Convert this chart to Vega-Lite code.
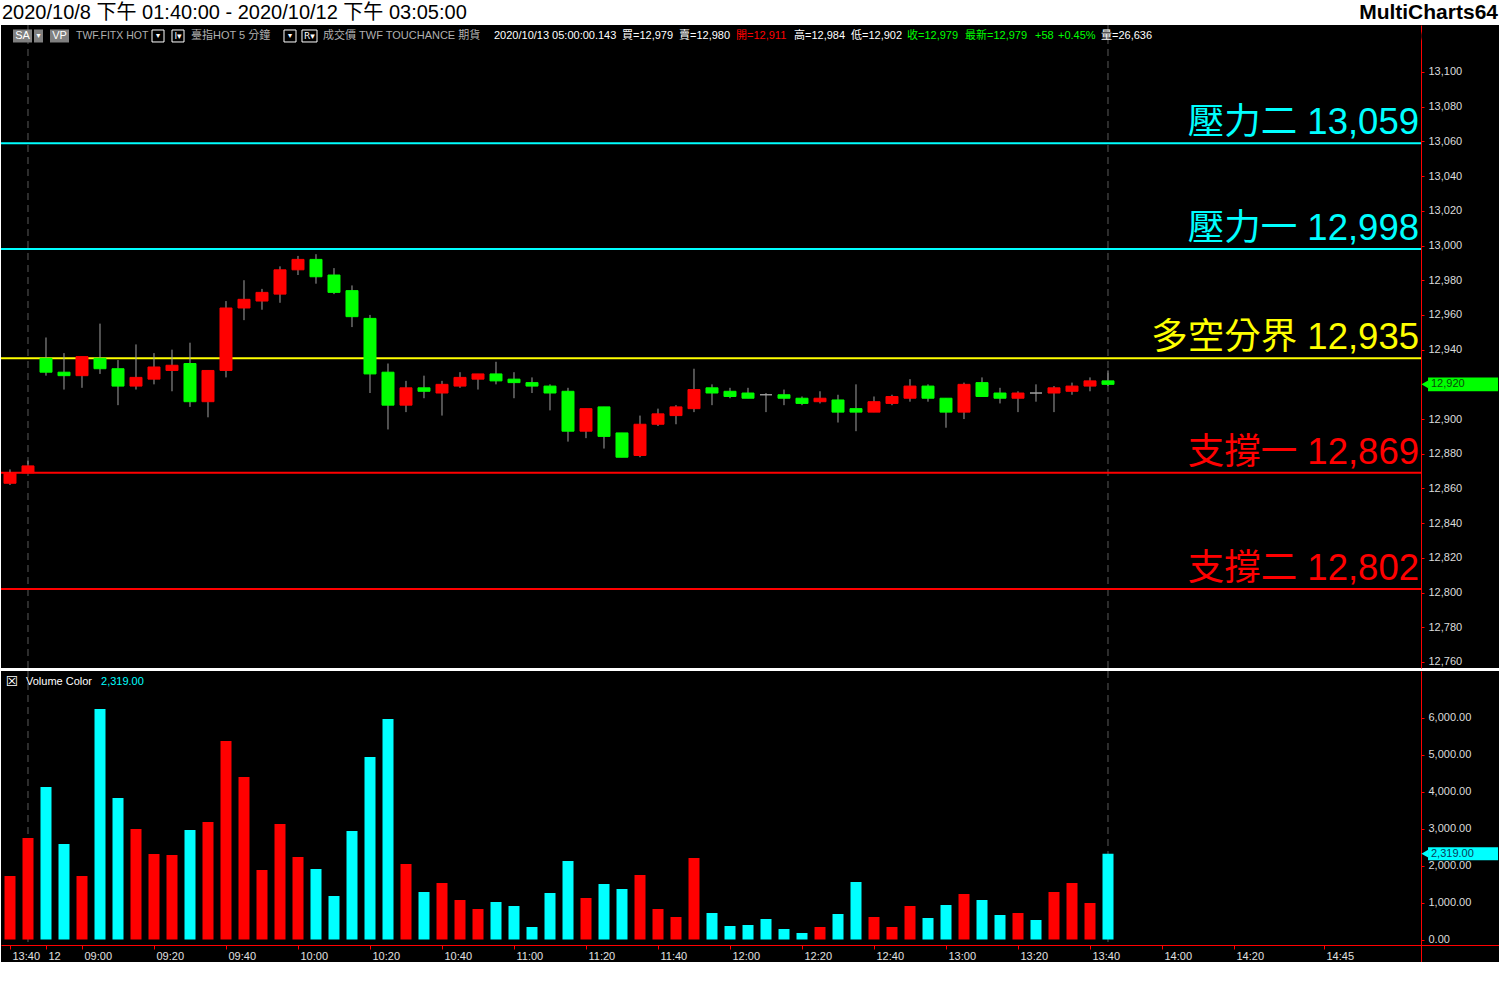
{
  "$schema": "https://vega.github.io/schema/vega-lite/v6.json",
  "padding": 0,
  "background": "white",
  "spacing": 0,
  "bounds": "flush",
  "config": {"view": {"stroke": null}, "text": {"font": "Liberation Sans, Noto Sans CJK TC"}},
  "datasets": {
    "one": [{}],
    "bars": [
      {"i":0,"o":12863,"h":12871,"l":12862,"c":12869,"v":1716,"dir":"up"},
      {"i":1,"o":12869,"h":12876,"l":12869,"c":12873,"v":2744,"dir":"up"},
      {"i":2,"o":12935,"h":12947,"l":12925,"c":12927,"v":4122,"dir":"down"},
      {"i":3,"o":12927,"h":12938,"l":12917,"c":12925,"v":2581,"dir":"down"},
      {"i":4,"o":12925,"h":12936,"l":12918,"c":12936,"v":1716,"dir":"up"},
      {"i":5,"o":12935,"h":12955,"l":12926,"c":12929,"v":6230,"dir":"down"},
      {"i":6,"o":12929,"h":12934,"l":12908,"c":12919,"v":3825,"dir":"down"},
      {"i":7,"o":12919,"h":12943,"l":12917,"c":12924,"v":2987,"dir":"up"},
      {"i":8,"o":12923,"h":12938,"l":12920,"c":12930,"v":2311,"dir":"up"},
      {"i":9,"o":12928,"h":12940,"l":12916,"c":12931,"v":2284,"dir":"up"},
      {"i":10,"o":12932,"h":12944,"l":12907,"c":12910,"v":2960,"dir":"down"},
      {"i":11,"o":12910,"h":12928,"l":12901,"c":12928,"v":3176,"dir":"up"},
      {"i":12,"o":12928,"h":12968,"l":12924,"c":12964,"v":5366,"dir":"up"},
      {"i":13,"o":12964,"h":12980,"l":12957,"c":12969,"v":4392,"dir":"up"},
      {"i":14,"o":12968,"h":12975,"l":12963,"c":12973,"v":1879,"dir":"up"},
      {"i":15,"o":12972,"h":12988,"l":12967,"c":12986,"v":3122,"dir":"up"},
      {"i":16,"o":12986,"h":12994,"l":12983,"c":12992,"v":2230,"dir":"up"},
      {"i":17,"o":12992,"h":12995,"l":12978,"c":12982,"v":1906,"dir":"down"},
      {"i":18,"o":12983,"h":12987,"l":12972,"c":12973,"v":1176,"dir":"down"},
      {"i":19,"o":12974,"h":12977,"l":12953,"c":12959,"v":2933,"dir":"down"},
      {"i":20,"o":12958,"h":12960,"l":12915,"c":12926,"v":4933,"dir":"down"},
      {"i":21,"o":12927,"h":12932,"l":12894,"c":12908,"v":5960,"dir":"down"},
      {"i":22,"o":12908,"h":12922,"l":12904,"c":12918,"v":2041,"dir":"up"},
      {"i":23,"o":12918,"h":12925,"l":12912,"c":12916,"v":1284,"dir":"down"},
      {"i":24,"o":12915,"h":12922,"l":12902,"c":12920,"v":1527,"dir":"up"},
      {"i":25,"o":12919,"h":12927,"l":12918,"c":12924,"v":1068,"dir":"up"},
      {"i":26,"o":12923,"h":12926,"l":12917,"c":12926,"v":824,"dir":"up"},
      {"i":27,"o":12926,"h":12933,"l":12920,"c":12922,"v":1014,"dir":"down"},
      {"i":28,"o":12923,"h":12927,"l":12912,"c":12921,"v":905,"dir":"down"},
      {"i":29,"o":12921,"h":12924,"l":12915,"c":12919,"v":338,"dir":"down"},
      {"i":30,"o":12919,"h":12920,"l":12905,"c":12915,"v":1257,"dir":"down"},
      {"i":31,"o":12916,"h":12918,"l":12887,"c":12893,"v":2122,"dir":"down"},
      {"i":32,"o":12893,"h":12906,"l":12889,"c":12906,"v":1122,"dir":"up"},
      {"i":33,"o":12907,"h":12907,"l":12883,"c":12890,"v":1500,"dir":"down"},
      {"i":34,"o":12892,"h":12892,"l":12878,"c":12878,"v":1365,"dir":"down"},
      {"i":35,"o":12879,"h":12902,"l":12878,"c":12897,"v":1743,"dir":"up"},
      {"i":36,"o":12897,"h":12906,"l":12896,"c":12903,"v":824,"dir":"up"},
      {"i":37,"o":12902,"h":12908,"l":12897,"c":12907,"v":608,"dir":"up"},
      {"i":38,"o":12906,"h":12929,"l":12904,"c":12917,"v":2203,"dir":"up"},
      {"i":39,"o":12918,"h":12920,"l":12908,"c":12915,"v":716,"dir":"down"},
      {"i":40,"o":12916,"h":12918,"l":12912,"c":12913,"v":365,"dir":"down"},
      {"i":41,"o":12915,"h":12918,"l":12912,"c":12912,"v":392,"dir":"down"},
      {"i":42,"o":12914,"h":12915,"l":12904,"c":12914,"v":554,"dir":"flat"},
      {"i":43,"o":12914,"h":12917,"l":12908,"c":12912,"v":284,"dir":"down"},
      {"i":44,"o":12912,"h":12913,"l":12908,"c":12909,"v":176,"dir":"down"},
      {"i":45,"o":12910,"h":12916,"l":12909,"c":12912,"v":338,"dir":"up"},
      {"i":46,"o":12911,"h":12914,"l":12898,"c":12904,"v":689,"dir":"down"},
      {"i":47,"o":12906,"h":12920,"l":12893,"c":12904,"v":1554,"dir":"down"},
      {"i":48,"o":12904,"h":12913,"l":12904,"c":12910,"v":608,"dir":"up"},
      {"i":49,"o":12909,"h":12914,"l":12908,"c":12913,"v":338,"dir":"up"},
      {"i":50,"o":12912,"h":12923,"l":12910,"c":12919,"v":905,"dir":"up"},
      {"i":51,"o":12919,"h":12920,"l":12910,"c":12912,"v":581,"dir":"down"},
      {"i":52,"o":12912,"h":12912,"l":12895,"c":12904,"v":932,"dir":"down"},
      {"i":53,"o":12904,"h":12921,"l":12900,"c":12920,"v":1230,"dir":"up"},
      {"i":54,"o":12921,"h":12924,"l":12913,"c":12913,"v":1068,"dir":"down"},
      {"i":55,"o":12915,"h":12918,"l":12909,"c":12912,"v":662,"dir":"down"},
      {"i":56,"o":12912,"h":12916,"l":12904,"c":12915,"v":716,"dir":"up"},
      {"i":57,"o":12915,"h":12920,"l":12910,"c":12915,"v":527,"dir":"flat"},
      {"i":58,"o":12915,"h":12919,"l":12904,"c":12918,"v":1284,"dir":"up"},
      {"i":59,"o":12916,"h":12921,"l":12914,"c":12919,"v":1527,"dir":"up"},
      {"i":60,"o":12919,"h":12924,"l":12916,"c":12922,"v":987,"dir":"up"},
      {"i":61,"o":12922,"h":12928,"l":12919,"c":12920,"v":2319,"dir":"down"}
    ],
    "levels": [
      {"name":"壓力二","value":13059,"label":"壓力二 13,059"},
      {"name":"壓力一","value":12998,"label":"壓力一 12,998"},
      {"name":"多空分界","value":12935,"label":"多空分界 12,935"},
      {"name":"支撐一","value":12869,"label":"支撐一 12,869"},
      {"name":"支撐二","value":12802,"label":"支撐二 12,802"}
    ]
  },
  "vconcat": [
    {
      "width": 1499, "height": 25,
      "data": {"name": "one"},
      "layer": [
        {"mark": {"type":"text","align":"left","baseline":"middle","fontSize":20,"color":"black","dx":1},
         "encoding": {"x":{"datum":0,"type":"quantitative","scale":{"domain":[0,1],"nice":false,"zero":false},"axis":null},
                      "y":{"datum":0.5,"type":"quantitative","scale":{"domain":[0,1],"nice":false,"zero":false},"axis":null},
                      "text":{"value":"2020/10/8 下午 01:40:00 - 2020/10/12 下午 03:05:00"}}},
        {"mark": {"type":"text","align":"right","baseline":"middle","fontSize":21,"fontWeight":"bold","color":"black","dx":-2},
         "encoding": {"x":{"datum":1,"type":"quantitative","scale":{"domain":[0,1],"nice":false,"zero":false},"axis":null},
                      "y":{"datum":0.5,"type":"quantitative","scale":{"domain":[0,1],"nice":false,"zero":false},"axis":null},
                      "text":{"value":"MultiCharts64"}}}
      ]
    },
    {
      "spacing": 3,
      "bounds": "flush",
      "vconcat": [
        {
          "width": 1499, "height": 643,
          "view": {"fill": "black", "stroke": null},
          "data": {"name": "one"},
          "resolve": {"scale": {"color": "independent", "stroke": "independent"}},
          "layer": [
            {"mark": {"type":"rule","color":"#5a5a5a","strokeDash":[7,5],"strokeWidth":1},
             "encoding": {"x":{"datum":1,"type":"quantitative","scale":{"domain":[-0.5,82.7778],"nice":false,"zero":false,"padding":0},"axis":null}}},
            {"mark": {"type":"rule","color":"#5a5a5a","strokeDash":[7,5],"strokeWidth":1},
             "encoding": {"x":{"datum":61,"type":"quantitative","scale":{"domain":[-0.5,82.7778],"nice":false,"zero":false,"padding":0},"axis":null}}},
            {"data": {"name":"levels"},
             "mark": {"type":"rule","strokeWidth":2},
             "encoding": {"x":{"datum":-0.5,"type":"quantitative","scale":{"domain":[-0.5,82.7778],"nice":false,"zero":false,"padding":0},"axis":null},
                          "x2":{"datum":78.389},
                          "y":{"field":"value","type":"quantitative","title":null,"scale":{"domain":[12756.54,13127.08],"nice":false,"zero":false}},
                          "color":{"field":"name","type":"nominal","scale":{"domain":["壓力二","壓力一","多空分界","支撐一","支撐二"],"range":["#00ffff","#00ffff","#ffff00","#ff0000","#ff0000"]},"legend":null}}},
            {"data": {"name":"levels"},
             "mark": {"type":"text","align":"right","baseline":"alphabetic","fontSize":36.5,"dy":-9,"dx":-2},
             "encoding": {"x":{"datum":78.389,"type":"quantitative","scale":{"domain":[-0.5,82.7778],"nice":false,"zero":false,"padding":0},"axis":null},
                          "y":{"field":"value","type":"quantitative","title":null,"scale":{"domain":[12756.54,13127.08],"nice":false,"zero":false}},
                          "text":{"field":"label"},
                          "color":{"field":"name","type":"nominal","scale":{"domain":["壓力二","壓力一","多空分界","支撐一","支撐二"],"range":["#00ffff","#00ffff","#ffff00","#ff0000","#ff0000"]},"legend":null}}},
            {"data": {"name":"bars"},
             "mark": {"type":"rule","color":"#a0a0a0","strokeWidth":1},
             "encoding": {"x":{"field":"i","type":"quantitative","scale":{"domain":[-0.5,82.7778],"nice":false,"zero":false,"padding":0},"axis":null},
                          "y":{"field":"l","type":"quantitative","title":null,"scale":{"domain":[12756.54,13127.08],"nice":false,"zero":false}},
                          "y2":{"field":"h"}}},
            {"data": {"name":"bars"},
             "mark": {"type":"bar","width":12,"strokeWidth":1,"orient":"vertical"},
             "encoding": {"x":{"field":"i","type":"quantitative","scale":{"domain":[-0.5,82.7778],"nice":false,"zero":false,"padding":0},"axis":null},
                          "y":{"field":"o","type":"quantitative","title":null,"scale":{"domain":[12756.54,13127.08],"nice":false,"zero":false},
                               "axis":{"orient":"right","offset":-79,"title":null,"grid":false,
                                       "values":[12760,12780,12800,12820,12840,12860,12880,12900,12940,12960,12980,13000,13020,13040,13060,13080,13100],
                                       "format":",.0f",
                                       "domainColor":"#ff0000","domainWidth":1,"tickColor":"#ff0000","tickSize":3,
                                       "labelColor":"#dcdcdc","labelFontSize":11,"labelFont":"Liberation Sans","labelPadding":4,"labelOverlap":false,"labelFlush":false,"labelBound":false}},
                          "y2":{"field":"c"},
                          "color":{"field":"dir","type":"nominal","scale":{"domain":["up","down","flat"],"range":["#ff0000","#00ff00","#a0a0a0"]},"legend":null},
                          "stroke":{"field":"dir","type":"nominal","scale":{"domain":["up","down","flat"],"range":["#ff0000","#00ff00","#a0a0a0"]},"legend":null}}},
            {"mark": {"type":"rect","fill":"#808080"},
             "encoding": {"x":{"datum":0.167,"type":"quantitative","scale":{"domain":[-0.5,82.7778],"nice":false,"zero":false,"padding":0},"axis":null},"x2":{"datum":1.222},
                          "y":{"datum":13117,"type":"quantitative","scale":{"domain":[12756.54,13127.08],"nice":false,"zero":false}},"y2":{"datum":13124.5}}},
            {"mark": {"type":"rect","fill":"#808080"},
             "encoding": {"x":{"datum":1.333,"type":"quantitative","scale":{"domain":[-0.5,82.7778],"nice":false,"zero":false,"padding":0},"axis":null},"x2":{"datum":1.833},
                          "y":{"datum":13117,"type":"quantitative","scale":{"domain":[12756.54,13127.08],"nice":false,"zero":false}},"y2":{"datum":13124.5}}},
            {"mark": {"type":"rect","fill":"#808080"},
             "encoding": {"x":{"datum":2.222,"type":"quantitative","scale":{"domain":[-0.5,82.7778],"nice":false,"zero":false,"padding":0},"axis":null},"x2":{"datum":3.278},
                          "y":{"datum":13117,"type":"quantitative","scale":{"domain":[12756.54,13127.08],"nice":false,"zero":false}},"y2":{"datum":13124.5}}},
            {"mark": {"type":"rect","fill":"black","stroke":"white","strokeWidth":1},
             "encoding": {"x":{"datum":7.889,"type":"quantitative","scale":{"domain":[-0.5,82.7778],"nice":false,"zero":false,"padding":0},"axis":null},"x2":{"datum":8.556},
                          "y":{"datum":13117.3,"type":"quantitative","scale":{"domain":[12756.54,13127.08],"nice":false,"zero":false}},"y2":{"datum":13124.2}}},
            {"mark": {"type":"rect","fill":"black","stroke":"white","strokeWidth":1},
             "encoding": {"x":{"datum":9.0,"type":"quantitative","scale":{"domain":[-0.5,82.7778],"nice":false,"zero":false,"padding":0},"axis":null},"x2":{"datum":9.667},
                          "y":{"datum":13117.3,"type":"quantitative","scale":{"domain":[12756.54,13127.08],"nice":false,"zero":false}},"y2":{"datum":13124.2}}},
            {"mark": {"type":"rect","fill":"black","stroke":"white","strokeWidth":1},
             "encoding": {"x":{"datum":15.222,"type":"quantitative","scale":{"domain":[-0.5,82.7778],"nice":false,"zero":false,"padding":0},"axis":null},"x2":{"datum":15.889},
                          "y":{"datum":13117.3,"type":"quantitative","scale":{"domain":[12756.54,13127.08],"nice":false,"zero":false}},"y2":{"datum":13124.2}}},
            {"mark": {"type":"rect","fill":"black","stroke":"white","strokeWidth":1},
             "encoding": {"x":{"datum":16.222,"type":"quantitative","scale":{"domain":[-0.5,82.7778],"nice":false,"zero":false,"padding":0},"axis":null},"x2":{"datum":17.056},
                          "y":{"datum":13117.3,"type":"quantitative","scale":{"domain":[12756.54,13127.08],"nice":false,"zero":false}},"y2":{"datum":13124.2}}},
            {"mark": {"type":"text","align":"center","baseline":"middle","fontSize":11,"color":"white"},
             "encoding": {"x":{"datum":0.694,"type":"quantitative","scale":{"domain":[-0.5,82.7778],"nice":false,"zero":false,"padding":0},"axis":null},
                          "y":{"datum":13120.7,"type":"quantitative","scale":{"domain":[12756.54,13127.08],"nice":false,"zero":false}},
                          "text":{"value":"SA"}}},
            {"mark": {"type":"text","align":"center","baseline":"middle","fontSize":8,"font":"DejaVu Sans","color":"white"},
             "encoding": {"x":{"datum":1.583,"type":"quantitative","scale":{"domain":[-0.5,82.7778],"nice":false,"zero":false,"padding":0},"axis":null},
                          "y":{"datum":13120.7,"type":"quantitative","scale":{"domain":[12756.54,13127.08],"nice":false,"zero":false}},
                          "text":{"value":"▾"}}},
            {"mark": {"type":"text","align":"center","baseline":"middle","fontSize":11,"color":"white"},
             "encoding": {"x":{"datum":2.75,"type":"quantitative","scale":{"domain":[-0.5,82.7778],"nice":false,"zero":false,"padding":0},"axis":null},
                          "y":{"datum":13120.7,"type":"quantitative","scale":{"domain":[12756.54,13127.08],"nice":false,"zero":false}},
                          "text":{"value":"VP"}}},
            {"mark": {"type":"text","align":"left","baseline":"middle","fontSize":10.5,"color":"#b0b0b0"},
             "encoding": {"x":{"datum":3.667,"type":"quantitative","scale":{"domain":[-0.5,82.7778],"nice":false,"zero":false,"padding":0},"axis":null},
                          "y":{"datum":13120.7,"type":"quantitative","scale":{"domain":[12756.54,13127.08],"nice":false,"zero":false}},
                          "text":{"value":"TWF.FITX HOT"}}},
            {"mark": {"type":"text","align":"center","baseline":"middle","fontSize":8,"font":"DejaVu Sans","color":"white"},
             "encoding": {"x":{"datum":8.222,"type":"quantitative","scale":{"domain":[-0.5,82.7778],"nice":false,"zero":false,"padding":0},"axis":null},
                          "y":{"datum":13120.7,"type":"quantitative","scale":{"domain":[12756.54,13127.08],"nice":false,"zero":false}},
                          "text":{"value":"▾"}}},
            {"mark": {"type":"text","align":"center","baseline":"middle","fontSize":9,"font":"DejaVu Sans","color":"white"},
             "encoding": {"x":{"datum":9.333,"type":"quantitative","scale":{"domain":[-0.5,82.7778],"nice":false,"zero":false,"padding":0},"axis":null},
                          "y":{"datum":13120.7,"type":"quantitative","scale":{"domain":[12756.54,13127.08],"nice":false,"zero":false}},
                          "text":{"value":"I▾"}}},
            {"mark": {"type":"text","align":"left","baseline":"middle","fontSize":11,"color":"#b0b0b0"},
             "encoding": {"x":{"datum":10.056,"type":"quantitative","scale":{"domain":[-0.5,82.7778],"nice":false,"zero":false,"padding":0},"axis":null},
                          "y":{"datum":13120.7,"type":"quantitative","scale":{"domain":[12756.54,13127.08],"nice":false,"zero":false}},
                          "text":{"value":"臺指HOT  5 分鐘"}}},
            {"mark": {"type":"text","align":"center","baseline":"middle","fontSize":8,"font":"DejaVu Sans","color":"white"},
             "encoding": {"x":{"datum":15.556,"type":"quantitative","scale":{"domain":[-0.5,82.7778],"nice":false,"zero":false,"padding":0},"axis":null},
                          "y":{"datum":13120.7,"type":"quantitative","scale":{"domain":[12756.54,13127.08],"nice":false,"zero":false}},
                          "text":{"value":"▾"}}},
            {"mark": {"type":"text","align":"center","baseline":"middle","fontSize":9,"font":"DejaVu Sans","color":"white"},
             "encoding": {"x":{"datum":16.639,"type":"quantitative","scale":{"domain":[-0.5,82.7778],"nice":false,"zero":false,"padding":0},"axis":null},
                          "y":{"datum":13120.7,"type":"quantitative","scale":{"domain":[12756.54,13127.08],"nice":false,"zero":false}},
                          "text":{"value":"R▾"}}},
            {"mark": {"type":"text","align":"left","baseline":"middle","fontSize":11,"color":"#b0b0b0"},
             "encoding": {"x":{"datum":17.389,"type":"quantitative","scale":{"domain":[-0.5,82.7778],"nice":false,"zero":false,"padding":0},"axis":null},
                          "y":{"datum":13120.7,"type":"quantitative","scale":{"domain":[12756.54,13127.08],"nice":false,"zero":false}},
                          "text":{"value":"成交價  TWF  TOUCHANCE  期貨"}}},
            {"mark": {"type":"text","align":"left","baseline":"middle","fontSize":11,"color":"white"},
             "encoding": {"x":{"datum":26.889,"type":"quantitative","scale":{"domain":[-0.5,82.7778],"nice":false,"zero":false,"padding":0},"axis":null},
                          "y":{"datum":13120.7,"type":"quantitative","scale":{"domain":[12756.54,13127.08],"nice":false,"zero":false}},
                          "text":{"value":"2020/10/13  05:00:00.143"}}},
            {"mark": {"type":"text","align":"left","baseline":"middle","fontSize":11,"color":"white"},
             "encoding": {"x":{"datum":34.0,"type":"quantitative","scale":{"domain":[-0.5,82.7778],"nice":false,"zero":false,"padding":0},"axis":null},
                          "y":{"datum":13120.7,"type":"quantitative","scale":{"domain":[12756.54,13127.08],"nice":false,"zero":false}},
                          "text":{"value":"買=12,979"}}},
            {"mark": {"type":"text","align":"left","baseline":"middle","fontSize":11,"color":"white"},
             "encoding": {"x":{"datum":37.167,"type":"quantitative","scale":{"domain":[-0.5,82.7778],"nice":false,"zero":false,"padding":0},"axis":null},
                          "y":{"datum":13120.7,"type":"quantitative","scale":{"domain":[12756.54,13127.08],"nice":false,"zero":false}},
                          "text":{"value":"賣=12,980"}}},
            {"mark": {"type":"text","align":"left","baseline":"middle","fontSize":11,"color":"#ff0000"},
             "encoding": {"x":{"datum":40.333,"type":"quantitative","scale":{"domain":[-0.5,82.7778],"nice":false,"zero":false,"padding":0},"axis":null},
                          "y":{"datum":13120.7,"type":"quantitative","scale":{"domain":[12756.54,13127.08],"nice":false,"zero":false}},
                          "text":{"value":"開=12,911"}}},
            {"mark": {"type":"text","align":"left","baseline":"middle","fontSize":11,"color":"white"},
             "encoding": {"x":{"datum":43.556,"type":"quantitative","scale":{"domain":[-0.5,82.7778],"nice":false,"zero":false,"padding":0},"axis":null},
                          "y":{"datum":13120.7,"type":"quantitative","scale":{"domain":[12756.54,13127.08],"nice":false,"zero":false}},
                          "text":{"value":"高=12,984"}}},
            {"mark": {"type":"text","align":"left","baseline":"middle","fontSize":11,"color":"white"},
             "encoding": {"x":{"datum":46.722,"type":"quantitative","scale":{"domain":[-0.5,82.7778],"nice":false,"zero":false,"padding":0},"axis":null},
                          "y":{"datum":13120.7,"type":"quantitative","scale":{"domain":[12756.54,13127.08],"nice":false,"zero":false}},
                          "text":{"value":"低=12,902"}}},
            {"mark": {"type":"text","align":"left","baseline":"middle","fontSize":11,"color":"#00ff00"},
             "encoding": {"x":{"datum":49.833,"type":"quantitative","scale":{"domain":[-0.5,82.7778],"nice":false,"zero":false,"padding":0},"axis":null},
                          "y":{"datum":13120.7,"type":"quantitative","scale":{"domain":[12756.54,13127.08],"nice":false,"zero":false}},
                          "text":{"value":"收=12,979"}}},
            {"mark": {"type":"text","align":"left","baseline":"middle","fontSize":11,"color":"#00ff00"},
             "encoding": {"x":{"datum":53.056,"type":"quantitative","scale":{"domain":[-0.5,82.7778],"nice":false,"zero":false,"padding":0},"axis":null},
                          "y":{"datum":13120.7,"type":"quantitative","scale":{"domain":[12756.54,13127.08],"nice":false,"zero":false}},
                          "text":{"value":"最新=12,979"}}},
            {"mark": {"type":"text","align":"left","baseline":"middle","fontSize":11,"color":"#00ff00"},
             "encoding": {"x":{"datum":56.944,"type":"quantitative","scale":{"domain":[-0.5,82.7778],"nice":false,"zero":false,"padding":0},"axis":null},
                          "y":{"datum":13120.7,"type":"quantitative","scale":{"domain":[12756.54,13127.08],"nice":false,"zero":false}},
                          "text":{"value":"+58"}}},
            {"mark": {"type":"text","align":"left","baseline":"middle","fontSize":11,"color":"#00ff00"},
             "encoding": {"x":{"datum":58.222,"type":"quantitative","scale":{"domain":[-0.5,82.7778],"nice":false,"zero":false,"padding":0},"axis":null},
                          "y":{"datum":13120.7,"type":"quantitative","scale":{"domain":[12756.54,13127.08],"nice":false,"zero":false}},
                          "text":{"value":"+0.45%"}}},
            {"mark": {"type":"text","align":"left","baseline":"middle","fontSize":11,"color":"white"},
             "encoding": {"x":{"datum":60.611,"type":"quantitative","scale":{"domain":[-0.5,82.7778],"nice":false,"zero":false,"padding":0},"axis":null},
                          "y":{"datum":13120.7,"type":"quantitative","scale":{"domain":[12756.54,13127.08],"nice":false,"zero":false}},
                          "text":{"value":"量=26,636"}}},
            {"mark": {"type":"rect","fill":"#00ff00"},
             "encoding": {"x":{"datum":78.78,"type":"quantitative","scale":{"domain":[-0.5,82.7778],"nice":false,"zero":false,"padding":0},"axis":null},"x2":{"datum":82.67},
                          "y":{"datum":12916,"type":"quantitative","scale":{"domain":[12756.54,13127.08],"nice":false,"zero":false}},"y2":{"datum":12924}}},
            {"mark": {"type":"point","shape":"triangle-left","filled":true,"fill":"#00ff00","strokeWidth":0,"size":60,"opacity":1},
             "encoding": {"x":{"datum":78.6,"type":"quantitative","scale":{"domain":[-0.5,82.7778],"nice":false,"zero":false,"padding":0},"axis":null},
                          "y":{"datum":12920,"type":"quantitative","scale":{"domain":[12756.54,13127.08],"nice":false,"zero":false}}}},
            {"mark": {"type":"text","align":"left","baseline":"middle","fontSize":11,"color":"#0a4a0a"},
             "encoding": {"x":{"datum":78.944,"type":"quantitative","scale":{"domain":[-0.5,82.7778],"nice":false,"zero":false,"padding":0},"axis":null},
                          "y":{"datum":12920,"type":"quantitative","scale":{"domain":[12756.54,13127.08],"nice":false,"zero":false}},
                          "text":{"value":"12,920"}}}
          ]
        },
        {
          "width": 1499, "height": 291,
          "view": {"fill": "black", "stroke": null},
          "data": {"name": "one"},
          "resolve": {"scale": {"color": "independent"}},
          "layer": [
            {"mark": {"type":"rule","color":"#5a5a5a","strokeDash":[7,5],"strokeWidth":1},
             "encoding": {"x":{"datum":1,"type":"quantitative","scale":{"domain":[-0.5,82.7778],"nice":false,"zero":false,"padding":0}},
                          "y":{"datum":7256.8,"type":"quantitative","scale":{"domain":[-608.1,7256.8],"nice":false,"zero":false}},"y2":{"datum":-149}}},
            {"mark": {"type":"rule","color":"#5a5a5a","strokeDash":[7,5],"strokeWidth":1},
             "encoding": {"x":{"datum":61,"type":"quantitative","scale":{"domain":[-0.5,82.7778],"nice":false,"zero":false,"padding":0}},
                          "y":{"datum":7256.8,"type":"quantitative","scale":{"domain":[-608.1,7256.8],"nice":false,"zero":false}},"y2":{"datum":-149}}},
            {"data": {"name":"bars"},
             "mark": {"type":"bar","width":11,"orient":"vertical"},
             "encoding": {"x":{"field":"i","type":"quantitative","title":null,"scale":{"domain":[-0.5,82.7778],"nice":false,"zero":false,"padding":0},
                               "axis":{"orient":"bottom","offset":-17,"title":null,"grid":false,
                                       "values":[0,2,4,8,12,16,20,24,28,32,36,40,44,48,52,56,60,64,68,73],
                                       "labelExpr":"datum.value == 0 ? '13:40' : datum.value == 2 ? '12' : format(floor((530 + (datum.value - 2) * 5) / 60), '02d') + ':' + format((530 + (datum.value - 2) * 5) % 60, '02d')",
                                       "labelAlign":"left","labelBaseline":"top","labelOffset":2,"labelPadding":1,
                                       "domainColor":"#ff0000","tickColor":"#ff0000","tickSize":4,
                                       "labelColor":"#e0e0e0","labelFontSize":11,"labelFont":"Liberation Sans","labelOverlap":false,"labelFlush":false,"labelBound":false}},
                          "y":{"field":"v","type":"quantitative","title":null,"scale":{"domain":[-608.1,7256.8],"nice":false,"zero":false},
                               "axis":{"orient":"right","offset":-79,"title":null,"grid":false,
                                       "values":[0,500,1000,1500,2000,2500,3000,3500,4000,4500,5000,5500,6000,6500],
                                       "format":",.2f","labelExpr":"datum.value % 1000 === 0 ? datum.label : ''",
                                       "domainColor":"#ff0000","tickColor":"#ff0000","tickSize":3,
                                       "labelColor":"#dcdcdc","labelFontSize":11,"labelFont":"Liberation Sans","labelPadding":4,"labelOverlap":false,"labelFlush":false,"labelBound":false}},
                          "y2":{"datum":0},
                          "color":{"field":"dir","type":"nominal","scale":{"domain":["up","down","flat"],"range":["#ff0000","#00ffff","#00ffff"]},"legend":null}}},
            {"mark": {"type":"text","align":"center","baseline":"middle","fontSize":14,"font":"DejaVu Sans","color":"white"},
             "encoding": {"x":{"datum":0.111,"type":"quantitative","scale":{"domain":[-0.5,82.7778],"nice":false,"zero":false,"padding":0}},
                          "y":{"datum":6960,"type":"quantitative","scale":{"domain":[-608.1,7256.8],"nice":false,"zero":false}},
                          "text":{"value":"☒"}}},
            {"mark": {"type":"text","align":"left","baseline":"middle","fontSize":11,"color":"white"},
             "encoding": {"x":{"datum":0.889,"type":"quantitative","scale":{"domain":[-0.5,82.7778],"nice":false,"zero":false,"padding":0}},
                          "y":{"datum":6960,"type":"quantitative","scale":{"domain":[-608.1,7256.8],"nice":false,"zero":false}},
                          "text":{"value":"Volume Color"}}},
            {"mark": {"type":"text","align":"left","baseline":"middle","fontSize":11,"color":"#00ffff"},
             "encoding": {"x":{"datum":5.056,"type":"quantitative","scale":{"domain":[-0.5,82.7778],"nice":false,"zero":false,"padding":0}},
                          "y":{"datum":6960,"type":"quantitative","scale":{"domain":[-608.1,7256.8],"nice":false,"zero":false}},
                          "text":{"value":"2,319.00"}}},
            {"mark": {"type":"rect","fill":"#00ffff"},
             "encoding": {"x":{"datum":78.78,"type":"quantitative","scale":{"domain":[-0.5,82.7778],"nice":false,"zero":false,"padding":0}},"x2":{"datum":82.67},
                          "y":{"datum":2143,"type":"quantitative","scale":{"domain":[-608.1,7256.8],"nice":false,"zero":false}},"y2":{"datum":2495}}},
            {"mark": {"type":"point","shape":"triangle-left","filled":true,"fill":"#00ffff","strokeWidth":0,"size":60,"opacity":1},
             "encoding": {"x":{"datum":78.6,"type":"quantitative","scale":{"domain":[-0.5,82.7778],"nice":false,"zero":false,"padding":0}},
                          "y":{"datum":2319,"type":"quantitative","scale":{"domain":[-608.1,7256.8],"nice":false,"zero":false}}}},
            {"mark": {"type":"text","align":"left","baseline":"middle","fontSize":11,"color":"#0a3a5a"},
             "encoding": {"x":{"datum":78.944,"type":"quantitative","scale":{"domain":[-0.5,82.7778],"nice":false,"zero":false,"padding":0}},
                          "y":{"datum":2319,"type":"quantitative","scale":{"domain":[-608.1,7256.8],"nice":false,"zero":false}},
                          "text":{"value":"2,319.00"}}}
          ]
        }
      ]
    },
    {
      "width": 1499, "height": 24,
      "data": {"name": "one"},
      "layer": [
        {"mark": {"type":"text","align":"right","baseline":"middle","fontSize":20,"color":"black","dx":-2},
         "encoding": {"x":{"datum":1,"type":"quantitative","scale":{"domain":[0,1],"nice":false,"zero":false},"axis":null},
                      "y":{"datum":0.5,"type":"quantitative","scale":{"domain":[0,1],"nice":false,"zero":false},"axis":null},
                      "text":{"value":"列印於 2020/10/13 07:54:41"}}}
      ]
    }
  ]
}
